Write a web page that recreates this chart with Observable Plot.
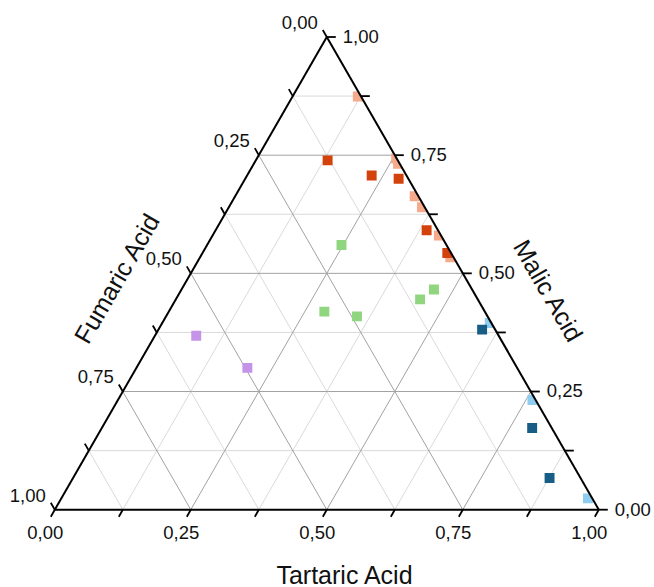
<!DOCTYPE html>
<html>
<head>
<meta charset="utf-8">
<script src="https://cdn.jsdelivr.net/npm/d3@7"></script>
<script src="https://cdn.jsdelivr.net/npm/@observablehq/plot@0.6"></script>
<style>
  html, body { margin: 0; padding: 0; background: #fff; }
  #chart svg { display: block; }
</style>
</head>
<body>
<div id="chart"></div>
<script>
// ---------- data (ternary fractions: Tartaric, Malic, Fumaric) ----------
const seriesNames  = ["light orange", "dark orange", "green", "purple", "light blue", "dark blue"];
const seriesColors = ["#f5aa8b", "#d4420c", "#90d680", "#c593e8", "#8fcdf0", "#175d86"];

const lightOrangeTartaric = [0.120, 0.256, 0.265, 0.330, 0.355, 0.416, 0.460];
const lightOrangeMalic    = [0.874, 0.743, 0.732, 0.663, 0.640, 0.580, 0.534];
const lightOrangeFumaric  = [0.006, 0.001, 0.003, 0.007, 0.005, 0.004, 0.006];

const darkOrangeTartaric  = [0.132, 0.229, 0.282, 0.388, 0.450];
const darkOrangeMalic     = [0.739, 0.707, 0.700, 0.591, 0.543];
const darkOrangeFumaric   = [0.129, 0.064, 0.018, 0.021, 0.007];

const greenTartaric       = [0.247, 0.286, 0.351, 0.449, 0.464];
const greenMalic          = [0.560, 0.419, 0.409, 0.445, 0.466];
const greenFumaric        = [0.193, 0.295, 0.240, 0.106, 0.070];

const purpleTartaric      = [0.076, 0.204];
const purpleMalic         = [0.368, 0.300];
const purpleFumaric       = [0.556, 0.496];

const lightBlueTartaric   = [0.602, 0.762, 0.968];
const lightBlueMalic      = [0.395, 0.232, 0.024];
const lightBlueFumaric    = [0.003, 0.006, 0.008];

const darkBlueTartaric    = [0.595, 0.791, 0.876];
const darkBlueMalic       = [0.381, 0.173, 0.067];
const darkBlueFumaric     = [0.024, 0.036, 0.057];

const majorTicks = [0, 0.25, 0.5, 0.75, 1];
const minorTicks = [0.125, 0.375, 0.625, 0.875];
const tickLabels = ["0,00", "0,25", "0,50", "0,75", "1,00"];
const axisTitles = ["Tartaric Acid", "Malic Acid", "Fumaric Acid"];

// ---------- build tables ----------
const seriesData = [
  [lightOrangeTartaric, lightOrangeMalic, lightOrangeFumaric],
  [darkOrangeTartaric, darkOrangeMalic, darkOrangeFumaric],
  [greenTartaric, greenMalic, greenFumaric],
  [purpleTartaric, purpleMalic, purpleFumaric],
  [lightBlueTartaric, lightBlueMalic, lightBlueFumaric],
  [darkBlueTartaric, darkBlueMalic, darkBlueFumaric]
];
const points = [];
seriesData.forEach(([T, M, F], s) => {
  T.forEach((t, i) => {
    const sum = t + M[i] + F[i];
    const tt = t / sum, mm = M[i] / sum;
    points.push({series: seriesNames[s], tartaric: tt, malic: mm, fumaric: F[i] / sum,
                 x: tt + mm / 2, y: mm});
  });
});

// grid lines (constant malic, constant tartaric, constant fumaric)
function gridLines(vals) {
  const out = [];
  vals.forEach(v => {
    if (v <= 0 || v >= 1) return;
    out.push({x1: v / 2, y1: v, x2: 1 - v / 2, y2: v});             // malic = v
    out.push({x1: v, y1: 0, x2: (1 + v) / 2, y2: 1 - v});           // tartaric = v
    out.push({x1: 1 - v, y1: 0, x2: (1 - v) / 2, y2: 1 - v});       // fumaric = v
  });
  return out;
}
const minorGrid = gridLines(minorTicks);
const majorGrid = gridLines(majorTicks);

const edges = [
  {x1: 0, y1: 0, x2: 1, y2: 0},
  {x1: 1, y1: 0, x2: 0.5, y2: 1},
  {x1: 0.5, y1: 1, x2: 0, y2: 0}
];

// layout (pixels)
const X0 = 54.3, X1 = 598.3, Y0 = 509.2, Y1 = 36.5;
const pxX = (X1 - X0), pxY = (Y0 - Y1);
const allTicks = [...majorTicks, ...minorTicks];
const tickRows = [];
allTicks.forEach(v => {
  // bottom axis (tartaric): down-left
  tickRows.push({x1: v, y1: 0, x2: v - 4 / pxX, y2: -7 / pxY});
  // right axis (malic): to the right
  tickRows.push({x1: 1 - v / 2, y1: v, x2: 1 - v / 2 + 9 / pxX, y2: v});
  // left axis (fumaric): up-left
  tickRows.push({x1: (1 - v) / 2, y1: 1 - v, x2: (1 - v) / 2 - 4 / pxX, y2: 1 - v + 7 / pxY});
});
const bottomLabels = majorTicks.map((v, i) => ({x: v, y: 0, label: tickLabels[i]}));
const rightLabels  = majorTicks.map((v, i) => ({x: 1 - v / 2, y: v, label: tickLabels[i]}));
const leftLabels   = majorTicks.map((v, i) => ({x: (1 - v) / 2, y: 1 - v, label: tickLabels[i]}));

const font = "'Liberation Sans', Arial, sans-serif";
const tickFont = 18.5, titleFont = 25;

const chart = Plot.plot({
  width: 654,
  height: 587,
  margin: 0,
  style: {fontFamily: font, background: "#fff", overflow: "visible"},
  x: {domain: [0, 1], range: [X0, X1], axis: null},
  y: {domain: [0, 1], range: [Y0, Y1], axis: null},
  marks: [
    Plot.link(minorGrid, {x1: "x1", y1: "y1", x2: "x2", y2: "y2", stroke: "#dadada", strokeWidth: 1}),
    Plot.link(majorGrid, {x1: "x1", y1: "y1", x2: "x2", y2: "y2", stroke: "#a2a2a2", strokeWidth: 1}),
    ...seriesNames.map((name, s) =>
      Plot.dot(points.filter(d => d.series === name), {
        x: "x", y: "y", symbol: "square", r: 5.6, fill: seriesColors[s], stroke: "none",
        title: d => `${name}\nTartaric ${d.tartaric.toFixed(3)}\nMalic ${d.malic.toFixed(3)}\nFumaric ${d.fumaric.toFixed(3)}`
      })
    ),
    Plot.link(edges, {x1: "x1", y1: "y1", x2: "x2", y2: "y2", stroke: "#000", strokeWidth: 2}),
    Plot.link(tickRows, {x1: "x1", y1: "y1", x2: "x2", y2: "y2", stroke: "#000", strokeWidth: 1.8}),
    Plot.text(bottomLabels, {x: "x", y: "y", text: "label", dx: -9.6, dy: 23.5, textAnchor: "middle", lineAnchor: "middle", fontSize: tickFont, fill: "#111"}),
    Plot.text(rightLabels, {x: "x", y: "y", text: "label", dx: 16, dy: 0, textAnchor: "start", lineAnchor: "middle", fontSize: tickFont, fill: "#111"}),
    Plot.text(leftLabels, {x: "x", y: "y", text: "label", dx: -9, dy: -14, textAnchor: "end", lineAnchor: "middle", fontSize: tickFont, fill: "#111"}),
    Plot.text([axisTitles[0]], {frameAnchor: "bottom", text: d => d, dx: 17, dy: -12, textAnchor: "middle", lineAnchor: "middle", fontSize: titleFont, fill: "#111"}),
    Plot.text([axisTitles[1]], {frameAnchor: "right", text: d => d, dx: -107, dy: -3, rotate: 60, textAnchor: "middle", lineAnchor: "middle", fontSize: titleFont, fill: "#111"}),
    Plot.text([axisTitles[2]], {frameAnchor: "left", text: d => d, dx: 117, dy: -15, rotate: -60, textAnchor: "middle", lineAnchor: "middle", fontSize: titleFont, fill: "#111"})
  ]
});

// clip the points to the triangle
(function clipPoints() {
  const sx = d3.scaleLinear().domain([0, 1]).range([X0, X1]);
  const sy = d3.scaleLinear().domain([0, 1]).range([Y0, Y1]);
  const ns = "http://www.w3.org/2000/svg";
  const defs = document.createElementNS(ns, "defs");
  const cp = document.createElementNS(ns, "clipPath");
  cp.setAttribute("id", "tri-clip");
  const poly = document.createElementNS(ns, "polygon");
  poly.setAttribute("points", [[0, 0], [1, 0], [0.5, 1]].map(([a, b]) => `${sx(a)},${sy(b)}`).join(" "));
  cp.appendChild(poly);
  defs.appendChild(cp);
  chart.insertBefore(defs, chart.firstChild);
  chart.querySelectorAll('g[aria-label="dot"]').forEach(g => g.setAttribute("clip-path", "url(#tri-clip)"));
})();

document.getElementById("chart").appendChild(chart);
</script>
</body>
</html>
